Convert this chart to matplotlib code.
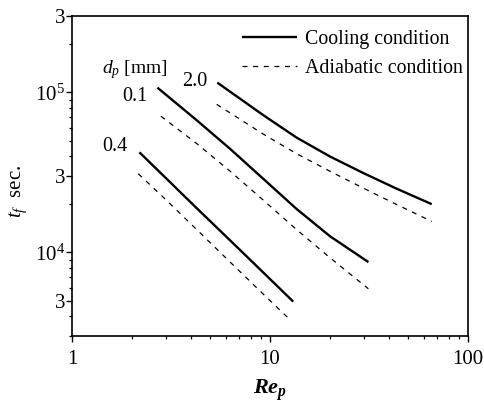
import matplotlib
matplotlib.use("Agg")
import matplotlib.pyplot as plt
from matplotlib.lines import Line2D
import numpy as np

plt.rcParams['font.family'] = ['Liberation Serif', 'DejaVu Serif']
plt.rcParams['mathtext.fontset'] = 'custom'
plt.rcParams['mathtext.rm'] = 'Liberation Serif'
plt.rcParams['mathtext.it'] = 'Liberation Serif:italic'
plt.rcParams['mathtext.bf'] = 'Liberation Serif:italic:bold'

# ---- data ----
re_20 = [5.42, 9.25, 13.6, 20.1, 29.6, 43.6, 65.6]
cool_20 = [1.15e5, 7.20e4, 5.22e4, 3.97e4, 3.13e4, 2.50e4, 2.00e4]
re_20a = [5.38, 9.25, 13.6, 20.1, 29.6, 43.6, 65.6]
adia_20 = [8.41e4, 5.48e4, 4.14e4, 3.21e4, 2.52e4, 1.99e4, 1.56e4]

re_01 = [2.70, 4.26, 6.28, 9.25, 13.6, 20.1, 31.4]
cool_01 = [1.07e5, 6.70e4, 4.44e4, 2.88e4, 1.87e4, 1.26e4, 8.69e3]
re_01a = [2.81, 4.26, 6.28, 9.25, 13.6, 20.1, 31.4]
adia_01 = [7.10e4, 4.79e4, 3.22e4, 2.12e4, 1.39e4, 9.25e3, 5.92e3]

re_04 = [2.19, 2.89, 4.26, 6.28, 9.25, 13.1]
cool_04 = [4.22e4, 3.02e4, 1.89e4, 1.19e4, 7.48e3, 4.92e3]
re_04a = [2.16, 2.89, 4.26, 6.28, 9.25, 12.4]
adia_04 = [3.10e4, 2.21e4, 1.39e4, 8.71e3, 5.48e3, 3.87e3]

xtick_values = [1, 10, 100]
xtick_labels = ['1', '10', '100']
ytick_values = [5e3, 1e4, 3e4, 1e5, 3e5]
ytick_labels = ['3', r'$10^4$', '3', r'$10^5$', '3']
legend_labels = ['Cooling condition', 'Adiabatic condition']

W, H = 485, 403
fig = plt.figure(figsize=(W / 100, H / 100), dpi=100)
ax = fig.add_axes([72 / W, (H - 336) / H, (468 - 72) / W, (336 - 16) / H])

solid_kw = dict(color='black', lw=1.7, solid_capstyle='butt')
dash_kw = dict(color='black', lw=0.9, dashes=(4.0, 4.5))

ax.plot(re_20, cool_20, **solid_kw)
ax.plot(re_20a, adia_20, **dash_kw)
ax.plot(re_01, cool_01, **solid_kw)
ax.plot(re_01a, adia_01, **dash_kw)
ax.plot(re_04, cool_04, **solid_kw)
ax.plot(re_04a, adia_04, **dash_kw)

ax.set_xscale('log')
ax.set_yscale('log')
ax.set_xlim(1, 100)
ax.set_ylim(3e3, 3e5)

ax.set_xticks(xtick_values)
ax.set_xticklabels(xtick_labels)
ax.set_yticks(ytick_values)
ax.set_yticklabels(ytick_labels)
ax.xaxis.set_minor_locator(matplotlib.ticker.LogLocator(base=10, subs=np.arange(2, 10)))
ax.yaxis.set_minor_locator(matplotlib.ticker.LogLocator(base=10, subs=np.arange(2, 10)))
ax.xaxis.set_minor_formatter(matplotlib.ticker.NullFormatter())
ax.yaxis.set_minor_formatter(matplotlib.ticker.NullFormatter())

ax.tick_params(which='major', direction='out', length=4, width=1.0, labelsize=15)
ax.tick_params(axis='x', which='major', pad=6)
ax.tick_params(axis='y', which='major', pad=1)
ax.tick_params(which='minor', direction='out', length=2.2, width=0.9)
for s in ax.spines.values():
    s.set_linewidth(1.2)

ax.set_xlabel(r'$\mathbf{Re}_{\mathbf{p}}$', fontsize=16)
ax.xaxis.set_label_coords(0.5, -0.131)
ax.set_ylabel(r'$t_f$  sec.', fontsize=15)
ax.yaxis.set_label_coords(-0.108, 0.453)

# curve annotations
ax.text(0.076, 0.832, r'$d_p$ [mm]', transform=ax.transAxes, fontsize=14, ha='left', va='center')
ax.text(0.159, 0.747, '0.1', transform=ax.transAxes, fontsize=14.5, ha='center', va='center')
ax.text(0.311, 0.794, '2.0', transform=ax.transAxes, fontsize=14.5, ha='center', va='center')
ax.text(0.109, 0.591, '0.4', transform=ax.transAxes, fontsize=14.5, ha='center', va='center')

handles = [Line2D([], [], **solid_kw), Line2D([], [], **dash_kw)]
leg = ax.legend(handles, legend_labels, loc='upper left',
                bbox_to_anchor=(242 / W, 1 - 30 / H), bbox_transform=fig.transFigure,
                frameon=False, fontsize=14.3, handlelength=2.75, handletextpad=0.4,
                labelspacing=0.5, borderpad=0, borderaxespad=0)

fig.savefig('out.png', dpi=100)
